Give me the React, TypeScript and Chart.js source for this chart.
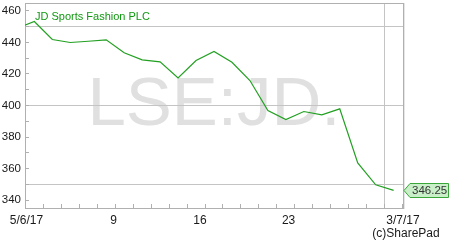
import React, { useEffect, useRef } from 'react';
import { Chart, registerables } from 'chart.js';

Chart.register(...registerables);

// Trading days (2 Jun 2017 .. 3 Jul 2017), x = index
const tradingDays = [
  '2/6/17', '5/6/17', '6/6/17', '7/6/17', '8/6/17', '9/6/17',
  '12/6/17', '13/6/17', '14/6/17', '15/6/17', '16/6/17',
  '19/6/17', '20/6/17', '21/6/17', '22/6/17', '23/6/17',
  '26/6/17', '27/6/17', '28/6/17', '29/6/17', '30/6/17', '3/7/17',
];
const closes = [
  448.7, 453.2, 441.8, 439.9, 440.7, 441.6,
  433.4, 428.9, 427.6, 417.5, 428.5,
  434.2, 427.4, 415.8, 396.8, 391.1,
  396.2, 394.1, 397.9, 363.7, 349.8, 346.25,
];

const xTickLabels = ['5/6/17', '9', '16', '23', '3/7/17'];
const xTickValues = [0.56, 5.41, 10.22, 15.15, 21.52];
const monthBoundary = 20.5;

const yTickValues = [340, 350, 360, 370, 380, 390, 400, 410, 420, 430, 440, 450, 460];
const yLabelValues = [340, 360, 380, 400, 420, 440, 460];
const yGridValues = [350, 400, 450];

const stockName = 'JD Sports Fashion PLC';
const watermark = 'LSE:JD.';
const copyright = '(c)SharePad';

const FONT = '"Liberation Sans", Arial, sans-serif';
const GREEN = '#22a022';
const GRID = '#c4c4c4';
const AXIS = '#b0b0b0';
const TRANSPARENT = 'rgba(0,0,0,0)';

const near = (a: number, b: number) => Math.abs(a - b) < 0.001;
const isBoundary = (v: number) => near(v - Math.floor(v), 0.5);

const decor = {
  id: 'decor',
  beforeDraw(chart: any) {
    const { ctx, chartArea: a } = chart;
    ctx.save();
    ctx.font = `69px ${FONT}`;
    ctx.fillStyle = '#e0e0e0';
    ctx.textAlign = 'center';
    ctx.textBaseline = 'alphabetic';
    ctx.fillText(watermark, (a.left + a.right) / 2, a.top + 122);
    ctx.restore();
  },
  afterDraw(chart: any) {
    const { ctx, chartArea: a } = chart;
    const y = chart.scales.y;
    ctx.save();
    // top & right border
    ctx.strokeStyle = AXIS;
    ctx.lineWidth = 1;
    ctx.beginPath();
    ctx.moveTo(a.left, a.top + 0.5);
    ctx.lineTo(a.right + 0.5, a.top + 0.5);
    ctx.moveTo(a.right + 0.5, a.top);
    ctx.lineTo(a.right + 0.5, a.bottom + 1);
    ctx.stroke();
    ctx.strokeStyle = '#e6e6e6';
    ctx.beginPath();
    ctx.moveTo(a.right + 1.5, a.top);
    ctx.lineTo(a.right + 1.5, a.bottom + 1);
    ctx.stroke();

    // title
    ctx.font = `11px ${FONT}`;
    ctx.fillStyle = '#119911';
    ctx.textAlign = 'left';
    ctx.textBaseline = 'middle';
    ctx.fillText(stockName, a.left + 10, a.top + 14);

    // last price box
    const last = closes[closes.length - 1];
    const py = Math.round(y.getPixelForValue(last)) + 0.5;
    const tip = a.right + 1;
    ctx.beginPath();
    ctx.moveTo(tip, py);
    ctx.lineTo(tip + 6, py - 7);
    ctx.lineTo(448.5, py - 7);
    ctx.lineTo(448.5, py + 7);
    ctx.lineTo(tip + 6, py + 7);
    ctx.closePath();
    ctx.fillStyle = '#c8efc8';
    ctx.fill();
    ctx.strokeStyle = '#3aa63a';
    ctx.stroke();
    ctx.font = `11.5px ${FONT}`;
    ctx.fillStyle = '#333333';
    ctx.textAlign = 'left';
    ctx.fillText(last.toFixed(2), tip + 8, py + 0.5);

    // copyright
    ctx.font = `12px ${FONT}`;
    ctx.fillStyle = '#1a1a1a';
    ctx.textAlign = 'center';
    ctx.fillText(copyright, 406, a.bottom + 26);
    ctx.restore();
  },
};

export default function App() {
  const ref = useRef<HTMLCanvasElement | null>(null);

  useEffect(() => {
    document.body.style.margin = '0';
    const canvas = ref.current;
    if (!canvas) return;
    const chart = new Chart(canvas, {
      type: 'line',
      data: {
        datasets: [
          {
            label: stockName,
            data: closes.map((v, i) => ({ x: i, y: v })),
            borderColor: GREEN,
            borderWidth: 1.2,
            pointRadius: 0,
            tension: 0,
            fill: false,
          },
        ],
      },
      options: {
        animation: false,
        responsive: false,
        devicePixelRatio: 1,
        layout: { padding: { top: 3, right: 47, left: 0, bottom: 0 } },
        plugins: {
          legend: { display: false },
          tooltip: { enabled: false },
          title: { display: false },
        },
        scales: {
          x: {
            type: 'linear',
            min: 0.48,
            max: 21.52,
            afterBuildTicks: (scale: any) => {
              const vals: number[] = [];
              for (let i = 0; i < tradingDays.length; i++) vals.push(i + 0.5);
              xTickValues.forEach((v) => vals.push(v));
              vals.sort((p, q) => p - q);
              scale.ticks = vals.map((v) => ({ value: v }));
            },
            afterFit: (scale: any) => {
              scale.height = 32;
              scale.paddingLeft = 0;
              scale.paddingRight = 0;
              scale.paddingTop = 0;
              scale.paddingBottom = 0;
            },
            ticks: {
              autoSkip: false,
              maxRotation: 0,
              minRotation: 0,
              padding: 9,
              color: '#1a1a1a',
              font: { family: FONT, size: 12 },
              callback: (value: any) => {
                const idx = xTickValues.findIndex((v) => near(v, Number(value)));
                return idx >= 0 ? xTickLabels[idx] : '';
              },
            },
            grid: {
              drawTicks: true,
              tickLength: -4,
              color: (c: any) => (c.tick && near(c.tick.value, monthBoundary) ? GRID : TRANSPARENT),
              tickColor: (c: any) => (c.tick && isBoundary(c.tick.value) ? AXIS : TRANSPARENT),
            },
            border: { display: true, color: AXIS, width: 1 },
          },
          y: {
            type: 'linear',
            min: 335.13,
            max: 464.9,
            afterBuildTicks: (scale: any) => {
              scale.ticks = yTickValues.map((v) => ({ value: v }));
            },
            afterFit: (scale: any) => {
              scale.width = 25;
              scale.paddingLeft = 0;
              scale.paddingRight = 0;
              scale.paddingTop = 0;
              scale.paddingBottom = 0;
            },
            ticks: {
              autoSkip: false,
              padding: 8,
              color: '#1a1a1a',
              font: { family: FONT, size: 11.5 },
              callback: (value: any) => (yLabelValues.includes(Number(value)) ? String(value) : ''),
            },
            grid: {
              drawTicks: true,
              tickLength: -4,
              color: (c: any) => (c.tick && yGridValues.includes(c.tick.value) ? GRID : TRANSPARENT),
              tickColor: AXIS,
            },
            border: { display: true, color: AXIS, width: 1 },
          },
        },
      },
      plugins: [decor],
    } as any);
    return () => chart.destroy();
  }, []);

  return (
    <div style={{ width: 450, height: 240, background: '#ffffff' }}>
      <canvas ref={ref} width={450} height={240} style={{ display: 'block' }} />
    </div>
  );
}
